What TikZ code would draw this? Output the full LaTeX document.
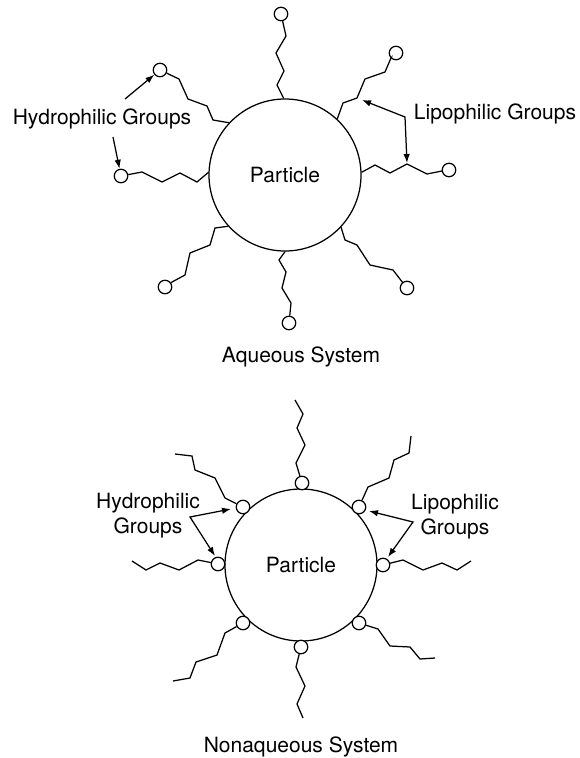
\documentclass[tikz,border=0pt]{standalone}
\usepackage{fontspec}
\setmainfont{TeX Gyre Heros}
\usetikzlibrary{arrows.meta}

\begin{document}
\begin{tikzpicture}[
    x=1pt, y=-1pt,
    line width=1.25pt,
    particle/.style={circle, draw, minimum size=152pt, inner sep=0pt,
                     font=\fontsize{21}{25}\selectfont},
    head/.style={circle, draw, fill=white, minimum size=13.5pt, inner sep=0pt},
    grouptext/.style={align=center, font=\fontsize{21}{25}\selectfont},
    arrow/.style={-{Latex[length=9pt,width=6.5pt]}},
    twoarrow/.style={{Latex[length=9pt,width=6.5pt]}-{Latex[length=9pt,width=6.5pt]}}
]
\useasboundingbox (0,0) rectangle (579,758);

% aqueous system
\node[particle] (p1) at (285,175) {Particle};
\node[head] (a1) at (160,70) {};
\node[head] (a2) at (121,176) {};
\node[head] (a3) at (281,14) {};
\node[head] (a4) at (396,53) {};
\node[head] (a5) at (449,170) {};
\node[head] (a6) at (407,288) {};
\node[head] (a7) at (289,323) {};
\node[head] (a8) at (165,287) {};

\draw (p1.137) -- (213,120) -- (207,106) -- (188,99) -- (179,79) -- (a1);
\draw (p1.178) -- (197,182) -- (180,173) -- (162,182) -- (142,172) -- (a2);
\draw (p1.91) -- (277,85) -- (284,71) -- (276,53) -- (286,36) -- (a3);
\draw (p1.47) -- (343,103) -- (357,98) -- (365,79) -- (385,72) -- (391,58) -- (a4);
\draw (p1.2) -- (375,165) -- (390,173) -- (407,164) -- (427,174) -- (442,171) -- (a5);
\draw (p1.-43) -- (345,240) -- (357,245) -- (370,265) -- (393,270) -- (403,283) -- (a6);
\draw (p1.-90) -- (279,260) -- (286,272) -- (282,288) -- (291,303) -- (a7);
\draw (p1.-138) -- (215,228) -- (210,245) -- (190,253) -- (185,275) -- (172,282) -- (a8);

\node[grouptext, anchor=base] (hyd1) at (102,124) {Hydrophilic Groups};
\coordinate (hyd1a) at (125,99);
\coordinate (hyd1b) at (113,137);
\draw[arrow] (hyd1a) -- (a1);
\draw[arrow] (hyd1b) -- (a2);

\node[grouptext, anchor=base] (lip1) at (495,119) {Lipophilic Groups};
\coordinate (lip1c) at (405,117);
\coordinate (lip1a) at (362,100);
\coordinate (lip1b) at (407,163);
\draw[twoarrow] (lip1a) -- (lip1c) -- (lip1b);

\node[grouptext, anchor=base] (aq) at (301,362) {Aqueous System};

% nonaqueous system
\node[particle] (p2) at (301,565) {Particle};
\node[head] (b1) at (243,507) {};
\node[head] (b2) at (218,564) {};
\node[head] (b3) at (302,483) {};
\node[head] (b4) at (359,507) {};
\node[head] (b5) at (383,565) {};
\node[head] (b6) at (359,623) {};
\node[head] (b7) at (301,647) {};
\node[head] (b8) at (243,623) {};

\draw (b1) -- (225,498) -- (215,478) -- (195,470) -- (192,456) -- (175,454);
\draw (b2) -- (198,560) -- (179,570) -- (160,563) -- (146,570) -- (132,561);
\draw (b3) -- (296,463) -- (305,445) -- (297,428) -- (303,414) -- (295,400);
\draw (b4) -- (368,487) -- (389,478) -- (394,460) -- (409,453) -- (411,436);
\draw (b5) -- (403,560) -- (423,570) -- (442,563) -- (457,570) -- (471,561);
\draw (b6) -- (378,629) -- (390,646) -- (410,647) -- (420,659) -- (435,658);
\draw (b7) -- (296,667) -- (305,686) -- (297,704) -- (303,718);
\draw (b8) -- (225,633) -- (217,655) -- (196,662) -- (190,678) -- (173,681);

\node[grouptext, anchor=base] (hyd2) at (148,533) {Hydrophilic\\Groups};
\coordinate (hyd2c) at (190,517);
\coordinate (hyd2a) at (231,509);
\coordinate (hyd2b) at (215,556);
\draw[twoarrow] (hyd2a) -- (hyd2c) -- (hyd2b);

\node[grouptext, anchor=base] (lip2) at (455,534) {Lipophilic\\Groups};
\coordinate (lip2c) at (413,522);
\coordinate (lip2a) at (369,511);
\coordinate (lip2b) at (388,557);
\draw[twoarrow] (lip2a) -- (lip2c) -- (lip2b);

\node[grouptext, anchor=base] (naq) at (301,752) {Nonaqueous System};
\end{tikzpicture}
\end{document}
